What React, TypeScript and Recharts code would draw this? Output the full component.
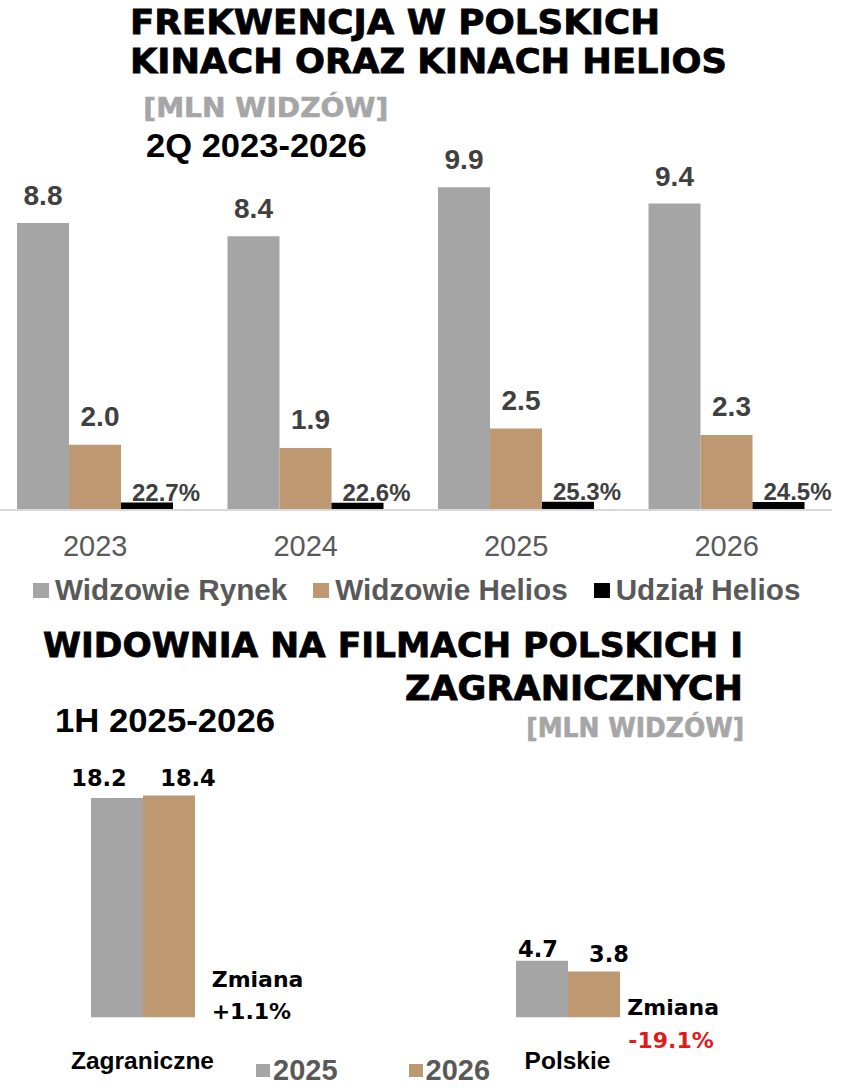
import React from "react";
import { BarChart, Bar, XAxis, YAxis, Legend, LabelList } from "recharts";

// górny wykres: 2Q, mln widzów
const years = ["2023", "2024", "2025", "2026"];
const widzowieRynek = [8.8, 8.4, 9.9, 9.4];
const widzowieHelios = [2.0, 1.9, 2.5, 2.3];
const udzialHelios = [0.227, 0.226, 0.253, 0.245];

// dolny wykres: 1H, mln widzów
const kategorie = ["Zagraniczne", "Polskie"];
const widownia2025 = [18.2, 4.7];
const widownia2026 = [18.4, 3.8];
const zmiany = ["+1.1%", "-19.1%"];

const GRAY = "#A5A5A5";
const TAN = "#BE9870";
const DARK = "#404040";
const AXIS_TXT = "#595959";
const RED = "#E31A1C";
const ARIAL = "'Liberation Sans', Arial, sans-serif";
const HEAVY = "'DejaVu Sans', sans-serif";

const topSeries = [
  { key: "rynek", name: "Widzowie Rynek", color: GRAY },
  { key: "helios", name: "Widzowie Helios", color: TAN },
  { key: "udzial", name: "Udział Helios", color: "#000000" },
];
const bottomSeries = [
  { key: "r2025", name: "2025", color: GRAY },
  { key: "r2026", name: "2026", color: TAN },
];

const topData = years.map((rok, i) => ({
  rok,
  rynek: widzowieRynek[i],
  helios: widzowieHelios[i],
  udzial: udzialHelios[i],
}));

const bottomData = kategorie.map((kat, i) => ({
  kat,
  r2025: widownia2025[i],
  r2026: widownia2026[i],
}));

// przesunięcia etykiet (jak w oryginale z Excela)
const nudge2025 = [{ dx: -18, gap: 12 }, { dx: -4, gap: 4 }];
const nudge2026 = [{ dx: 19, gap: 10 }, { dx: 15, gap: 10 }];

type LabelOpts = {
  dx: number | number[];
  gap: number | number[];
  color: string;
  font: string;
  size: number;
  format: (v: number) => string;
};

const pick = (v: number | number[], i: number) => (Array.isArray(v) ? v[i] : v);

const valueLabel = (o: LabelOpts) => (props: any) => {
  const { x, y, width, value, index } = props;
  const cx = Number(x) + Number(width) / 2 + pick(o.dx, index);
  return (
    <text
      x={cx}
      y={Number(y) - pick(o.gap, index)}
      textAnchor="middle"
      fill={o.color}
      fontFamily={o.font}
      fontWeight="bold"
      fontSize={o.size}
    >
      {o.format(Number(value))}
    </text>
  );
};

const oneDec = (v: number) => v.toFixed(1);
const pct = (v: number) => (v * 100).toFixed(1) + "%";

const legendContent =
  (series: { key: string; name: string; color: string }[], sq: number, sqGap: number, itemGap: number, size: number) =>
  () => (
    <div
      style={{
        display: "flex",
        alignItems: "center",
        gap: itemGap,
        height: 30,
        fontFamily: ARIAL,
        fontWeight: "bold",
        fontSize: size,
        color: AXIS_TXT,
        whiteSpace: "nowrap",
      }}
    >
      {series.map((s) => (
        <span key={s.key} style={{ display: "flex", alignItems: "center", gap: sqGap }}>
          <span style={{ width: sq, height: sq - 1, background: s.color, display: "inline-block" }} />
          {s.name}
        </span>
      ))}
    </div>
  );

const T = (p: any) => <text fontWeight="bold" lengthAdjust="spacingAndGlyphs" {...p} />;

export default function App() {
  return (
    <div style={{ position: "absolute", top: 0, left: 0, width: 841, height: 1091, overflow: "hidden", background: "#fff" }}>
      <div style={{ position: "absolute", top: 0, left: -10 }}>
        <BarChart
          width={842}
          height={620}
          data={topData}
          margin={{ top: 118.8, right: 0, bottom: 0, left: 0 }}
          barCategoryGap={27}
          barGap={0}
        >
          <XAxis
            dataKey="rok"
            axisLine={{ stroke: "#D9D9D9", strokeWidth: 2 }}
            tickLine={false}
            tickSize={0}
            tickMargin={25}
            height={80}
            interval={0}
            tick={{ fill: AXIS_TXT, fontSize: 29, fontFamily: ARIAL }}
          />
          <YAxis hide domain={[0, 12]} />
          <Legend
            verticalAlign="bottom"
            height={30}
            wrapperStyle={{ top: 575, left: 43, width: 790, height: 30 }}
            content={legendContent(topSeries, 16, 6, 26, 29.7)}
          />
          <Bar dataKey="rynek" name="Widzowie Rynek" fill={GRAY} isAnimationActive={false}>
            <LabelList dataKey="rynek" content={valueLabel({ dx: 0, gap: 18, color: DARK, font: ARIAL, size: 28, format: oneDec })} />
          </Bar>
          <Bar dataKey="helios" name="Widzowie Helios" fill={TAN} isAnimationActive={false}>
            <LabelList dataKey="helios" content={valueLabel({ dx: 5, gap: 19, color: DARK, font: ARIAL, size: 28, format: oneDec })} />
          </Bar>
          <Bar dataKey="udzial" name="Udział Helios" fill="#000000" isAnimationActive={false}>
            <LabelList dataKey="udzial" content={valueLabel({ dx: 19, gap: 2, color: DARK, font: ARIAL, size: 24, format: pct })} />
          </Bar>
        </BarChart>
      </div>

      <div style={{ position: "absolute", top: 740, left: -70 }}>
        <BarChart
          width={850}
          height={351}
          data={bottomData}
          margin={{ top: 36.3, right: 0, bottom: 3.7, left: 0 }}
          barCategoryGap={161}
          barGap={0}
        >
          <XAxis
            dataKey="kat"
            axisLine={false}
            tickLine={false}
            tickSize={0}
            tickMargin={34}
            height={40}
            interval={0}
            tick={{ fill: "#000", fontSize: 24.5, fontFamily: ARIAL, fontWeight: "bold" }}
          />
          <YAxis hide domain={[0, 20]} />
          <Legend
            verticalAlign="bottom"
            height={30}
            wrapperStyle={{ top: 315, left: 326, width: 400, height: 30 }}
            content={legendContent(bottomSeries, 14, 3, 71, 29)}
          />
          <Bar dataKey="r2025" name="2025" fill={GRAY} isAnimationActive={false}>
            <LabelList
              dataKey="r2025"
              content={valueLabel({ dx: nudge2025.map((n) => n.dx), gap: nudge2025.map((n) => n.gap), color: "#000", font: HEAVY, size: 22.5, format: oneDec })}
            />
          </Bar>
          <Bar dataKey="r2026" name="2026" fill={TAN} isAnimationActive={false}>
            <LabelList
              dataKey="r2026"
              content={valueLabel({ dx: nudge2026.map((n) => n.dx), gap: nudge2026.map((n) => n.gap), color: "#000", font: HEAVY, size: 22.5, format: oneDec })}
            />
          </Bar>
        </BarChart>
      </div>

      <svg width={841} height={1091} style={{ position: "absolute", top: 0, left: 0, pointerEvents: "none" }}>
        <T x={130} y={33.5} fontFamily={HEAVY} fontSize={34} textLength={530} fill="#000" stroke="#000" strokeWidth={0.8}>FREKWENCJA W POLSKICH</T>
        <T x={130} y={72.7} fontFamily={HEAVY} fontSize={34} textLength={597} fill="#000" stroke="#000" strokeWidth={0.8}>KINACH ORAZ KINACH HELIOS</T>
        <T x={143.3} y={117.3} fontFamily={HEAVY} fontSize={27} textLength={245} fill="#A6A6A6" stroke="#A6A6A6" strokeWidth={0.6}>[MLN WIDZÓW]</T>
        <T x={146} y={156.7} fontFamily={ARIAL} fontSize={33} textLength={220.7} fill="#000">2Q 2023-2026</T>

        <T x={743} y={656.7} textAnchor="end" fontFamily={HEAVY} fontSize={34} textLength={700} fill="#000" stroke="#000" strokeWidth={0.8}>WIDOWNIA NA FILMACH POLSKICH I</T>
        <T x={743} y={699.5} textAnchor="end" fontFamily={HEAVY} fontSize={34} textLength={338} fill="#000" stroke="#000" strokeWidth={0.8}>ZAGRANICZNYCH</T>
        <T x={744.3} y={736.7} textAnchor="end" fontFamily={HEAVY} fontSize={26} textLength={218} fill="#A6A6A6" stroke="#A6A6A6" strokeWidth={0.6}>[MLN WIDZÓW]</T>
        <T x={55} y={731.7} fontFamily={ARIAL} fontSize={33} textLength={220} fill="#000">1H 2025-2026</T>

        <text x={211.7} y={987.3} fontFamily={HEAVY} fontWeight="bold" fontSize={22} fill="#000">Zmiana</text>
        <text x={211.7} y={1019.3} fontFamily={HEAVY} fontWeight="bold" fontSize={22} fill="#000">{zmiany[0]}</text>
        <text x={627.3} y={1015} fontFamily={HEAVY} fontWeight="bold" fontSize={22} fill="#000">Zmiana</text>
        <text x={628.3} y={1047.7} fontFamily={HEAVY} fontWeight="bold" fontSize={22} fill={RED}>{zmiany[1]}</text>
      </svg>
    </div>
  );
}
